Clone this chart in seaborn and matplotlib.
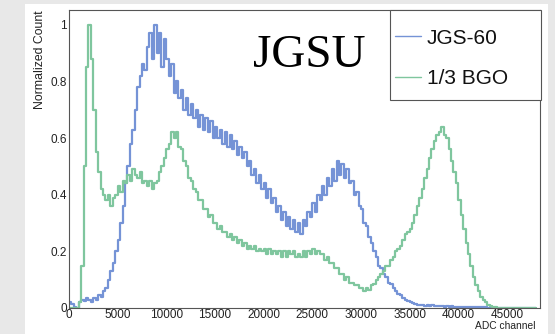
import numpy as np
import pandas as pd
import matplotlib
matplotlib.use("Agg")
import matplotlib.pyplot as plt
from matplotlib.patches import Rectangle
from matplotlib.lines import Line2D
from matplotlib.ticker import MultipleLocator, FuncFormatter
import seaborn as sns

# ---- data (normalized counts per 250-ADC bin, 0 .. 48000) ----
bin_width = 250
x_max = 48000

jgs60 = [
    0.02, 0.015, 0.005, 0.0,
    0.02, 0.03, 0.025, 0.035,
    0.03, 0.02, 0.035, 0.03,
    0.045, 0.04, 0.06, 0.07,
    0.10, 0.13, 0.16, 0.20,
    0.24, 0.30, 0.36, 0.44,
    0.50, 0.58, 0.63, 0.70,
    0.78, 0.82, 0.86, 0.84,
    0.92, 0.97, 0.88, 1.00,
    0.90, 0.97, 0.85, 0.95,
    0.88, 0.82, 0.86, 0.76,
    0.80, 0.74, 0.77, 0.70,
    0.74, 0.68, 0.72, 0.67,
    0.70, 0.64, 0.68, 0.63,
    0.67, 0.62, 0.66, 0.60,
    0.64, 0.60, 0.63, 0.58,
    0.62, 0.57, 0.61, 0.56,
    0.59, 0.54, 0.57, 0.53,
    0.55, 0.50, 0.52, 0.47,
    0.49, 0.44, 0.47, 0.42,
    0.44, 0.39, 0.42, 0.37,
    0.39, 0.34, 0.36, 0.31,
    0.34, 0.29, 0.32, 0.28,
    0.31, 0.27, 0.30, 0.26,
    0.31, 0.29, 0.34, 0.32,
    0.37, 0.34, 0.40, 0.38,
    0.43, 0.40, 0.46, 0.43,
    0.49, 0.45, 0.52, 0.47,
    0.51, 0.46, 0.49, 0.44,
    0.45, 0.40, 0.41, 0.36,
    0.35, 0.30, 0.29, 0.25,
    0.23, 0.20, 0.18, 0.15,
    0.14, 0.12, 0.11, 0.09,
    0.085, 0.07, 0.06, 0.05,
    0.045, 0.035, 0.03, 0.025,
    0.02, 0.018, 0.015, 0.012,
    0.01, 0.012, 0.008, 0.01,
    0.008, 0.01, 0.006, 0.008,
    0.006, 0.008, 0.005, 0.006,
    0.005, 0.006, 0.004, 0.005,
    0.004, 0.005, 0.003, 0.004,
    0.003, 0.004, 0.003, 0.003,
    0.003, 0.002, 0.002, 0.002,
    0.001, 0.001, 0.0, 0.0,
    0.0, 0.0, 0.0, 0.0,
    0.0, 0.0, 0.0, 0.0,
    0.0, 0.0, 0.0, 0.0,
    0.0, 0.0, 0.0, 0.0,
]

bgo_third = [
    0.0, 0.0, 0.0, 0.0,
    0.02, 0.15, 0.50, 0.85,
    1.00, 0.88, 0.70, 0.55,
    0.48, 0.42, 0.40, 0.38,
    0.40, 0.36, 0.39, 0.40,
    0.43, 0.41, 0.45, 0.44,
    0.47, 0.45, 0.49, 0.47,
    0.46, 0.48, 0.44, 0.45,
    0.43, 0.45, 0.42, 0.44,
    0.45, 0.48, 0.50, 0.53,
    0.56, 0.58, 0.62, 0.60,
    0.62, 0.57, 0.56, 0.52,
    0.50, 0.46, 0.45, 0.42,
    0.41, 0.38, 0.38, 0.35,
    0.35, 0.32, 0.33, 0.30,
    0.30, 0.28, 0.29, 0.27,
    0.27, 0.25, 0.26, 0.24,
    0.25, 0.23, 0.24, 0.22,
    0.23, 0.21, 0.22, 0.21,
    0.22, 0.20, 0.21, 0.20,
    0.21, 0.19, 0.21, 0.19,
    0.20, 0.19, 0.20, 0.18,
    0.20, 0.18, 0.20, 0.19,
    0.20, 0.18, 0.19, 0.18,
    0.20, 0.18, 0.20, 0.19,
    0.21, 0.19, 0.20, 0.19,
    0.19, 0.17, 0.18, 0.16,
    0.16, 0.14, 0.14, 0.12,
    0.12, 0.10, 0.11, 0.09,
    0.09, 0.08, 0.08, 0.07,
    0.07, 0.06, 0.07, 0.065,
    0.08, 0.085, 0.10, 0.11,
    0.12, 0.13, 0.15, 0.15,
    0.17, 0.18, 0.20, 0.21,
    0.22, 0.24, 0.26, 0.27,
    0.28, 0.30, 0.33, 0.36,
    0.39, 0.42, 0.46, 0.49,
    0.53, 0.56, 0.59, 0.61,
    0.62, 0.64, 0.61, 0.60,
    0.56, 0.52, 0.48, 0.44,
    0.38, 0.33, 0.28, 0.23,
    0.19, 0.15, 0.11, 0.08,
    0.06, 0.04, 0.03, 0.02,
    0.012, 0.008, 0.005, 0.003,
    0.001, 0.0, 0.0, 0.0,
    0.0, 0.0, 0.0, 0.0,
    0.0, 0.0, 0.0, 0.0,
    0.0, 0.0, 0.0, 0.0,
]

series_names = ["JGS-60", "1/3 BGO"]
series_colors = ["#7593d6", "#7fc69e"]
x_ticks = [0, 5000, 10000, 15000, 20000, 25000, 30000, 35000, 40000, 45000]
y_ticks = [0, 0.2, 0.4, 0.6, 0.8, 1]

centers = np.arange(len(jgs60)) * bin_width + bin_width / 2
df = pd.concat([
    pd.DataFrame({"adc": centers, "count": jgs60, "det": series_names[0]}),
    pd.DataFrame({"adc": centers, "count": bgo_third, "det": series_names[1]}),
], ignore_index=True)

sns.set_style("white")
plt.rcParams["font.family"] = ["Liberation Sans", "DejaVu Sans"]

W, H = 555, 334
fig = plt.figure(figsize=(W / 100, H / 100), dpi=100)
fig.patch.set_facecolor("#e8e8e8")
fig.patches.append(Rectangle((25 / W, 0), (548 - 25) / W, (H - 4) / H,
                             transform=fig.transFigure, facecolor="white",
                             edgecolor="none", zorder=-10))
ax_bottom_px = 308
ax = fig.add_axes([69 / W, 1 - ax_bottom_px / H, (540 - 69) / W, (ax_bottom_px - 10) / H])
ax.set_zorder(1)
ax.set_facecolor("white")

for name, col in zip(series_names, series_colors):
    sub = df[df["det"] == name]
    sns.histplot(data=sub, x="adc", weights="count", binwidth=bin_width,
                 binrange=(0, x_max), element="step", fill=False,
                 color=col, linewidth=1.6, ax=ax)

ax.set_xlim(0, 48400)
ax.set_ylim(0, 1.052)
ax.set_xticks(x_ticks)
ax.set_yticks(y_ticks)
ax.xaxis.set_minor_locator(MultipleLocator(1000))
ax.yaxis.set_minor_locator(MultipleLocator(0.04))
ax.yaxis.set_major_formatter(FuncFormatter(lambda v, p: f"{v:g}"))
ax.tick_params(which="both", direction="in", colors="#333333", labelcolor="#222222",
               labelsize=8.5, pad=1.5, width=0.7)
ax.tick_params(axis="x", which="both", pad=0.5)
ax.tick_params(which="major", length=5.5)
ax.tick_params(which="minor", length=3)
for s in ax.spines.values():
    s.set_color("#555555")
    s.set_linewidth(0.8)

ax.set_ylabel("Normalized Count", loc="top", fontsize=8.8, color="#222222")
ax.yaxis.set_label_coords(-0.048, 1.0)
ax.set_xlabel("ADC channel", loc="right", fontsize=7.4, color="#222222")

ax.text(18900, 0.85, "JGSU", fontsize=34, family=["Liberation Serif", "DejaVu Serif"],
        color="black", ha="left", va="baseline")

# legend frame and entries
ax.add_patch(Rectangle(((390 - 69) / 471, (ax_bottom_px - 100) / (ax_bottom_px - 10)),
                       (541 - 390) / 471, 90 / (ax_bottom_px - 10),
                       transform=ax.transAxes, facecolor="white", edgecolor="#555555",
                       linewidth=0.8, zorder=5, clip_on=False))
handles = [Line2D([], [], color=c, linewidth=1.0) for c in series_colors]
leg = ax.legend(handles, series_names, loc="upper left",
                bbox_to_anchor=((376 - 69) / 471, 1.0), frameon=False,
                fontsize=15, handlelength=1.25, handletextpad=0.3,
                labelspacing=1.04, borderaxespad=0.5)
leg.set_zorder(6)
for t in leg.get_texts():
    t.set_color("#111111")

# place x-label just below the tick labels
fig.canvas.draw()
r = fig.canvas.get_renderer()
lowest = min(t.get_window_extent(r).y0 for t in ax.get_xticklabels() if t.get_text())
ax_bb = ax.get_window_extent(r)
ax.xaxis.set_label_coords(0.99, (lowest - 0.3 - ax_bb.y0) / ax_bb.height)

fig.savefig("out.png", dpi=100, facecolor=fig.get_facecolor())
